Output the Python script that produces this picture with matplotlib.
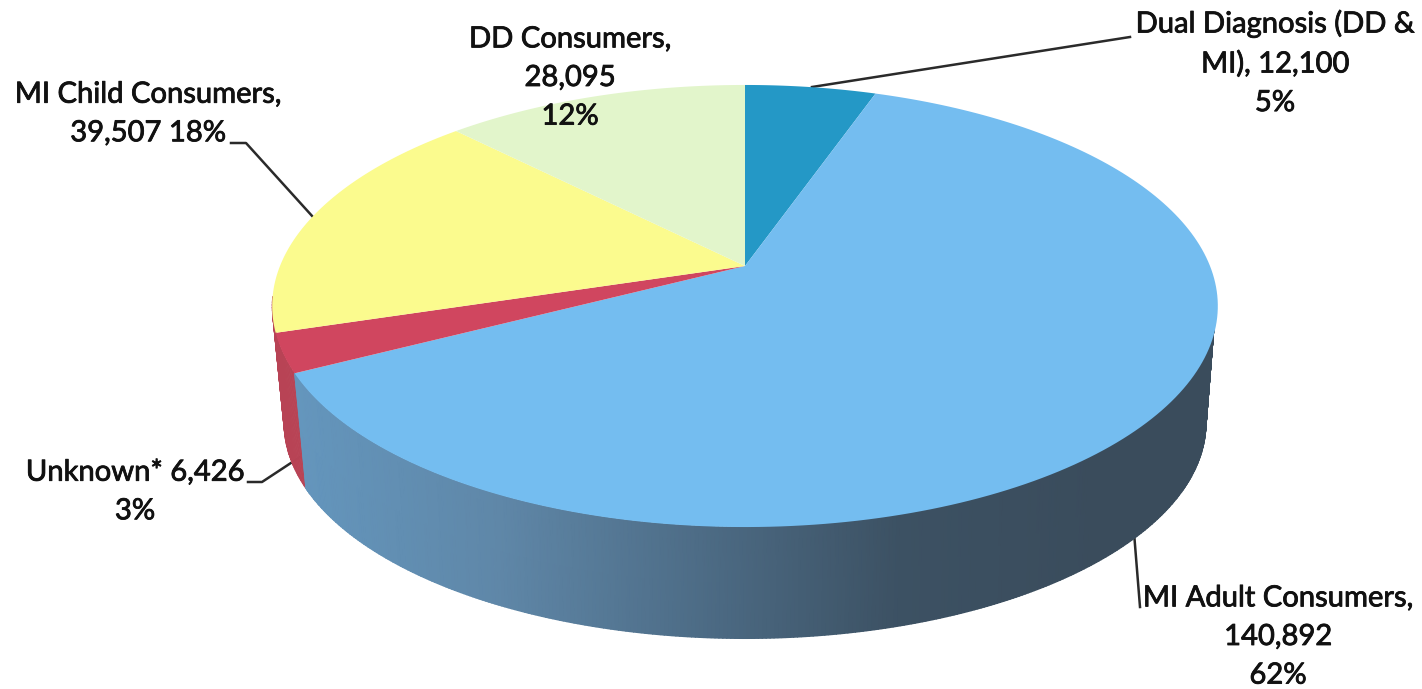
import numpy as np
import matplotlib.pyplot as plt
import matplotlib.patheffects as pe
from matplotlib.colors import LinearSegmentedColormap

# consumer counts, clockwise from 12 o'clock
categories = ['Dual Diagnosis', 'MI Adult', 'Unknown', 'MI Child', 'DD']
consumers = [12100, 140892, 6426, 39507, 28095]
top_colors = ['#2498c6', '#74bdf0', '#d0465f', '#fbfb8e', '#e2f5cb']

labels = [
    'Dual Diagnosis (DD &\nMI), 12,100\n5%',
    'MI Adult Consumers,\n140,892\n62%',
    'Unknown* 6,426\n3%',
    'MI Child Consumers,\n39,507 18%',
    'DD Consumers,\n28,095\n12%',
]

plt.rcParams['font.family'] = ['Lato', 'DejaVu Sans']

# pie geometry in pixels, with a simple perspective on the disc
CX, CY = 745, 266
A, B, K = 465, 213.8, 0.181
DROP, SHRINK = 118, 0.975


def top_edge(theta):
    d = 1 + K * np.cos(theta)
    return CX + A * np.sin(theta) / d, CY - B * np.cos(theta) / d


def bottom_edge(theta):
    d = 1 + K * np.cos(theta)
    return CX + SHRINK * A * np.sin(theta) / d, CY + DROP - SHRINK * B * np.cos(theta) / d


fig = plt.figure(figsize=(14.22, 6.89), dpi=100)
ax = fig.add_axes([0, 0, 1, 1])
ax.set_xlim(0, 1422)
ax.set_ylim(689, 0)
ax.axis('off')

edges = 2 * np.pi * np.cumsum([0] + consumers) / sum(consumers)

# rim of the adult slice shades from left to right
side_cmap = LinearSegmentedColormap.from_list(
    'rim', ['#6496bd', '#5f87a8', '#4d6c86', '#3c5163', '#3a4c5c'], N=1024)

# red rim runs behind the adult slice out to the left edge of the disc
steps = np.linspace(edges[2], np.radians(262), 30)
for a, b in zip(steps[:-1], steps[1:]):
    xa, ya = top_edge(a)
    xb, yb = top_edge(b)
    xc, yc = bottom_edge(b)
    xd, yd = bottom_edge(a)
    ax.fill([xa, xb, xc, xd], [ya, yb, yc, yd], color='#b84355', lw=0.6, zorder=1)

# right side pulled in a little so the unsmoothed mesh stays under the top face
t = np.linspace(np.radians(80), edges[2], 400)
xt, yt = top_edge(t)
xb, yb = bottom_edge(t)
pull = np.where(t < np.pi, 0.995, 1.0)
mesh_x = np.vstack([CX + (xt - CX) * pull, xb])
mesh_y = np.vstack([CY + (yt - CY) * pull, yb])
ax.pcolormesh(mesh_x, mesh_y, np.clip((mesh_x - 300) / 800, 0, 1), cmap=side_cmap,
              vmin=0, vmax=1, shading='gouraud', zorder=1.1)

# top faces
for i, name in enumerate(categories):
    t = np.linspace(edges[i], edges[i + 1], 200)
    x, y = top_edge(t)
    ax.fill(np.r_[CX, x], np.r_[CY, y], color=top_colors[i], lw=0, zorder=2)

# leader lines
leaders = [
    ([812, 1130], [87, 37]),
    ([1133, 1140], [520, 607]),
    ([248, 262, 300], [482, 482, 457]),
    ([231, 246, 313], [143, 143, 217]),
]
for lx, ly in leaders:
    ax.plot(lx, ly, color='#2a2a2a', lw=1.8, zorder=0.5)

# data labels
label_pos = [(1275, 63), (1278, 637), (135, 492), (148, 114), (570, 78)]
for text, (lx, ly) in zip(labels, label_pos):
    ax.text(lx, ly, text, ha='center', va='center', fontsize=21,
            linespacing=1.6, color='#111111', zorder=4,
            path_effects=[pe.withStroke(linewidth=0.6, foreground='#111111')])

fig.savefig('out.png', dpi=100)
